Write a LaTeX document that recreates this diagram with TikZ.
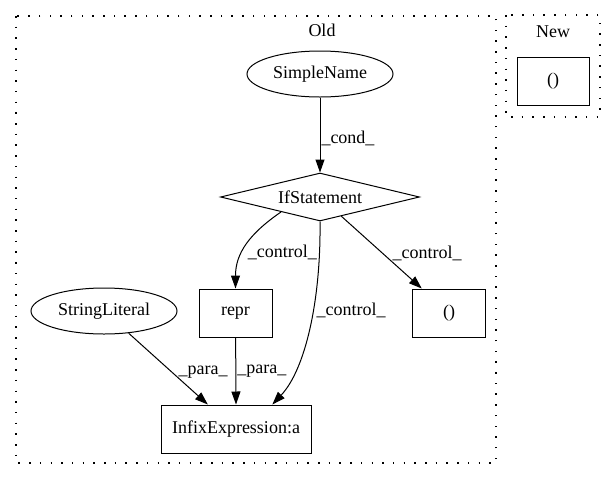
\documentclass[tikz,border=0pt]{standalone}
\usepackage{fontspec}
\setmainfont{Liberation Serif}
\usetikzlibrary{arrows.meta,shapes.geometric}
\begin{document}
\begin{tikzpicture}[x=1pt, y=-1pt, line width=1pt,
    every node/.style={font=\fontsize{18}{21}\selectfont, inner sep=0pt},
    box/.style={draw, minimum width=73pt, minimum height=48pt},
    oval/.style={draw, ellipse, minimum width=146pt, minimum height=46pt},
    cond/.style={draw, diamond, aspect=4, minimum width=199pt, minimum height=48pt},
    edge/.style={-{Triangle[length=13pt,width=9pt]}},
    lbl/.style={anchor=west, inner sep=1pt},
    cluster/.style={line width=1.2pt, dash pattern=on 1.5pt off 9.2pt}]
    \useasboundingbox (0,0) rectangle (616,480);
    \draw[cluster] (16,16) rectangle (496,463);
    \draw[cluster] (506,15) rectangle (600,117);
    \node (oldlbl) at (322,30) {Old};
    \node (newlbl) at (553,32) {New};
    \node[oval] (simplename) at (320,74) {SimpleName};
    \node[cond] (ifstmt) at (320,197) {IfStatement};
    \node[box] (repr) at (235.5,313) {repr};
    \node[box] (oldparen) at (449,313) {()};
    \node[oval] (strlit) at (104,311) {StringLiteral};
    \node[box, minimum width=150pt] (infix) at (236,429) {InfixExpression:a};
    \node[box, minimum width=72pt] (newparen) at (553,81) {()};
    \draw[edge] (simplename) -- node[lbl, pos=.54] {\_cond\_} (ifstmt);
    \draw[edge] (ifstmt.201) .. controls +(-32,22) and +(0,-35) .. (repr.north) node[lbl, pos=.6, xshift=4pt] {\_control\_};
    \draw[edge] (ifstmt.-42) -- (oldparen) node[lbl, pos=.52, xshift=8pt] {\_control\_};
    \draw[edge] (ifstmt.south) .. controls +(1,79) and +(33,-35) .. (infix.34) node[lbl, pos=.4, xshift=2pt] {\_control\_};
    \draw[edge] (strlit) -- (infix.139) node[lbl, pos=.55, xshift=5pt] {\_para\_};
    \draw[edge] (repr) -- (infix.north) node[lbl, pos=.5] {\_para\_};
\end{tikzpicture}
\end{document}
